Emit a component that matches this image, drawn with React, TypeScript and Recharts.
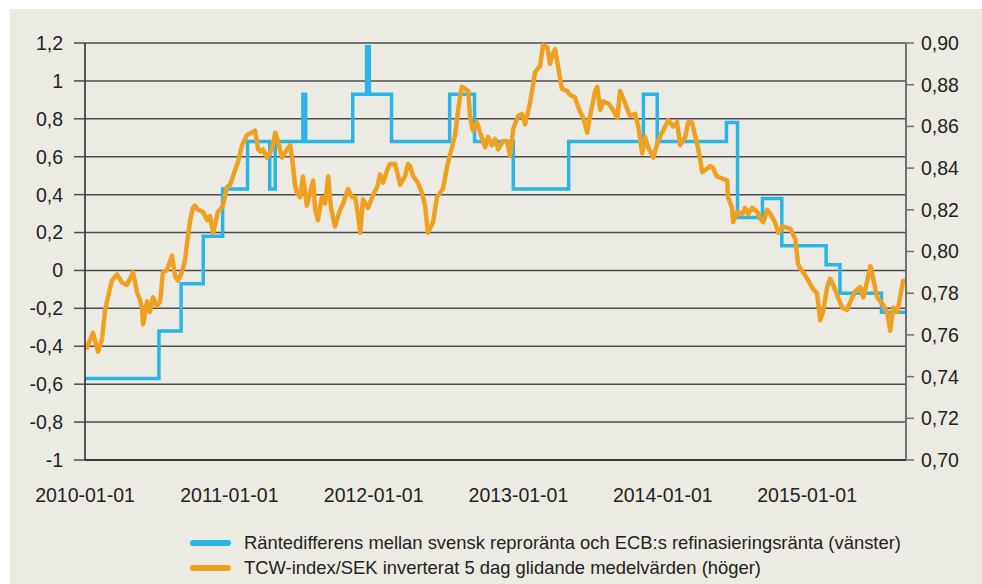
import { ComposedChart, Line, XAxis, YAxis, CartesianGrid } from 'recharts'

// Räntedifferens (vänster axel) och TCW-index/SEK inverterat (höger axel)

const DAY = 86400000
const START = Date.UTC(2010, 0, 1)
const END = Date.UTC(2015, 8, 8)

const yearTicks = ['2010-01-01', '2011-01-01', '2012-01-01', '2013-01-01', '2014-01-01', '2015-01-01']
const leftTicks = [-1, -0.8, -0.6, -0.4, -0.2, 0, 0.2, 0.4, 0.6, 0.8, 1, 1.2]
const rightTicks = [0.7, 0.72, 0.74, 0.76, 0.78, 0.8, 0.82, 0.84, 0.86, 0.88, 0.9]

// datum då räntedifferensen ändras (trappsteg)
const rateDates = [
  '2010-01-01', '2010-07-07', '2010-09-01', '2010-10-27', '2010-12-15', '2011-02-16',
  '2011-04-13', '2011-04-27', '2011-07-06', '2011-07-13', '2011-11-09', '2011-12-14',
  '2011-12-21', '2012-02-15', '2012-07-11', '2012-09-12', '2012-12-19', '2013-05-08',
  '2013-11-13', '2013-12-18', '2014-06-11', '2014-07-09', '2014-09-10', '2014-10-29',
  '2015-02-18', '2015-03-25', '2015-07-08', '2015-09-08',
]
const rateDiff = [
  -0.57, -0.32, -0.07, 0.18, 0.43, 0.68,
  0.43, 0.68, 0.93, 0.68, 0.93, 1.18,
  0.93, 0.68, 0.93, 0.68, 0.43, 0.68,
  0.93, 0.68, 0.78, 0.28, 0.38, 0.13,
  0.03, -0.12, -0.22, -0.22,
]

// TCW-index/SEK inverterat: dagar efter 2010-01-01 och avläst värde
const tcwDay = [
  3, 20, 33, 43, 51, 58, 68, 76, 81, 94, 106, 114, 121, 126, 132, 139, 144, 147, 157, 164,
  172, 182, 190, 197, 207, 220, 228, 235, 245, 253, 260, 266, 273, 278, 286, 298, 309, 316, 324, 336,
  341, 349, 359, 367, 374, 387, 397, 410, 422, 430, 438, 443, 450, 460, 473, 481, 488, 498, 511, 519,
  526, 531, 536, 544, 551, 561, 569, 577, 582, 589, 599, 607, 615, 622, 632, 645, 653, 665, 675, 683,
  690, 696, 703, 716, 726, 739, 746, 754, 764, 771, 784, 797, 809, 817, 822, 830, 842, 852, 860, 867,
  880, 890, 905, 916, 928, 936, 941, 948, 953, 961, 969, 974, 981, 991, 999, 1012, 1019, 1029, 1037, 1045,
  1057, 1067, 1075, 1083, 1095, 1105, 1113, 1126, 1138, 1151, 1158, 1169, 1176, 1181, 1189, 1196, 1206, 1219, 1227, 1239,
  1244, 1252, 1260, 1270, 1277, 1290, 1295, 1303, 1310, 1323, 1335, 1346, 1353, 1366, 1378, 1391, 1399, 1409, 1416, 1424,
  1437, 1449, 1459, 1475, 1487, 1497, 1505, 1518, 1525, 1535, 1543, 1550, 1561, 1568, 1581, 1588, 1598, 1611, 1624, 1626,
  1636, 1639, 1649, 1662, 1669, 1677, 1687, 1700, 1707, 1715, 1725, 1733, 1745, 1753, 1763, 1783, 1796, 1803, 1808, 1816,
  1829, 1841, 1851, 1859, 1866, 1877, 1884, 1892, 1904, 1915, 1927, 1940, 1948, 1960, 1968, 1978, 1986, 1993, 2003, 2016,
  2028, 2036, 2044, 2054, 2061, 2069, 2077,
]
const tcwValue = [
  0.753, 0.761, 0.752, 0.758, 0.772, 0.778, 0.786, 0.788, 0.789, 0.785, 0.784, 0.787, 0.79, 0.786, 0.78, 0.777, 0.773, 0.765, 0.776, 0.771,
  0.778, 0.774, 0.776, 0.79, 0.791, 0.798, 0.788, 0.786, 0.79, 0.796, 0.807, 0.815, 0.821, 0.822, 0.82, 0.819, 0.815, 0.817, 0.809, 0.819,
  0.82, 0.822, 0.831, 0.832, 0.836, 0.843, 0.851, 0.856, 0.857, 0.858, 0.849, 0.848, 0.849, 0.845, 0.849, 0.857, 0.853, 0.845, 0.849, 0.851,
  0.841, 0.832, 0.828, 0.826, 0.836, 0.822, 0.828, 0.834, 0.82, 0.815, 0.826, 0.823, 0.836, 0.821, 0.812, 0.82, 0.823, 0.83, 0.826, 0.826,
  0.818, 0.809, 0.825, 0.821, 0.826, 0.831, 0.837, 0.833, 0.839, 0.842, 0.842, 0.832, 0.836, 0.842, 0.841, 0.836, 0.833, 0.828, 0.822, 0.809,
  0.814, 0.826, 0.83, 0.841, 0.85, 0.856, 0.864, 0.874, 0.879, 0.878, 0.877, 0.864, 0.858, 0.862, 0.857, 0.85, 0.855, 0.851, 0.854, 0.849,
  0.853, 0.853, 0.846, 0.859, 0.865, 0.866, 0.861, 0.872, 0.886, 0.889, 0.899, 0.898, 0.89, 0.894, 0.897, 0.889, 0.878, 0.877, 0.875, 0.874,
  0.871, 0.867, 0.864, 0.857, 0.865, 0.877, 0.879, 0.868, 0.872, 0.871, 0.868, 0.864, 0.877, 0.871, 0.865, 0.866, 0.86, 0.847, 0.855, 0.85,
  0.845, 0.853, 0.857, 0.863, 0.86, 0.862, 0.851, 0.855, 0.862, 0.862, 0.855, 0.85, 0.838, 0.839, 0.841, 0.84, 0.836, 0.835, 0.834, 0.826,
  0.821, 0.814, 0.819, 0.818, 0.821, 0.818, 0.821, 0.819, 0.816, 0.814, 0.82, 0.818, 0.814, 0.809, 0.812, 0.811, 0.806, 0.794, 0.792, 0.79,
  0.786, 0.782, 0.78, 0.767, 0.771, 0.783, 0.787, 0.784, 0.778, 0.773, 0.772, 0.778, 0.781, 0.783, 0.778, 0.786, 0.793, 0.787, 0.778, 0.775,
  0.771, 0.762, 0.773, 0.771, 0.778, 0.786, 0.786,
]

const BLUE = '#2bb4e6'
const ORANGE = '#f0a021'
const PANEL = '#ecebe3'
const TEXT = '#222222'
const FONT = '"Liberation Sans", Arial, sans-serif'

const rateData = rateDates.map((d, i) => ({ t: Date.parse(d), v: rateDiff[i] }))
const tcwData = tcwDay.map((d, i) => ({ t: START + d * DAY, v: tcwValue[i] }))
const yearTickValues = yearTicks.map(d => Date.parse(d))

const fmtLeft = (v: number) => String(Math.round(v * 10) / 10).replace('.', ',')
const fmtRight = (v: number) => v.toFixed(2).replace('.', ',')
const fmtDate = (t: number) => new Date(t).toISOString().slice(0, 10)

const legendItems = [
  { color: BLUE, label: 'Räntedifferens mellan svensk reproränta och ECB:s refinasieringsränta (vänster)' },
  { color: ORANGE, label: 'TCW-index/SEK inverterat 5 dag glidande medelvärden (höger)' },
]

export default function App() {
  const tick = { fill: TEXT, fontSize: 19.5, fontFamily: FONT }
  return (
    <div style={{ position: 'fixed', left: 0, top: 0, width: 982, height: 584, background: '#fff' }}>
      <div style={{ position: 'absolute', left: 10, top: 9, width: 972, height: 575, background: PANEL }}>
        <ComposedChart width={972} height={575} margin={{ top: 34, right: 0, bottom: 0, left: 0 }}>
          <CartesianGrid yAxisId="left" vertical={false} stroke="#4d4d4d" strokeWidth={1.5} />
          <XAxis
            type="number"
            dataKey="t"
            domain={[START, END]}
            ticks={yearTickValues}
            tickFormatter={fmtDate}
            allowDataOverflow
            height={124}
            tickLine={false}
            tickMargin={22}
            axisLine={{ stroke: TEXT, strokeWidth: 1.5 }}
            tick={tick}
          />
          <YAxis
            yAxisId="left"
            orientation="left"
            width={75}
            domain={[-1, 1.2]}
            ticks={leftTicks}
            tickFormatter={fmtLeft}
            tickSize={11}
            tickMargin={11}
            axisLine={{ stroke: TEXT, strokeWidth: 1.5 }}
            tickLine={{ stroke: '#4d4d4d', strokeWidth: 1.5 }}
            tick={tick}
          />
          <YAxis
            yAxisId="right"
            orientation="right"
            width={76}
            domain={[0.7, 0.9]}
            ticks={rightTicks}
            tickFormatter={fmtRight}
            tickSize={8}
            tickMargin={7}
            axisLine={{ stroke: '#707070', strokeWidth: 2 }}
            tickLine={{ stroke: '#707070', strokeWidth: 1.5 }}
            tick={tick}
          />
          <Line
            yAxisId="left"
            data={rateData}
            dataKey="v"
            type="stepAfter"
            stroke={BLUE}
            strokeWidth={3.5}
            dot={false}
            isAnimationActive={false}
          />
          <Line
            yAxisId="right"
            data={tcwData}
            dataKey="v"
            type="linear"
            stroke={ORANGE}
            strokeWidth={4.5}
            strokeLinejoin="round"
            dot={false}
            isAnimationActive={false}
          />
        </ComposedChart>
        <div style={{ position: 'absolute', left: 180, top: 521, fontFamily: FONT, fontSize: 18.4, color: TEXT }}>
          {legendItems.map(item => (
            <div key={item.label} style={{ display: 'flex', alignItems: 'center', height: 25 }}>
              <span
                style={{
                  display: 'inline-block',
                  width: 41,
                  height: 6,
                  borderRadius: 3,
                  background: item.color,
                  marginRight: 13,
                }}
              />
              <span>{item.label}</span>
            </div>
          ))}
        </div>
      </div>
    </div>
  )
}
